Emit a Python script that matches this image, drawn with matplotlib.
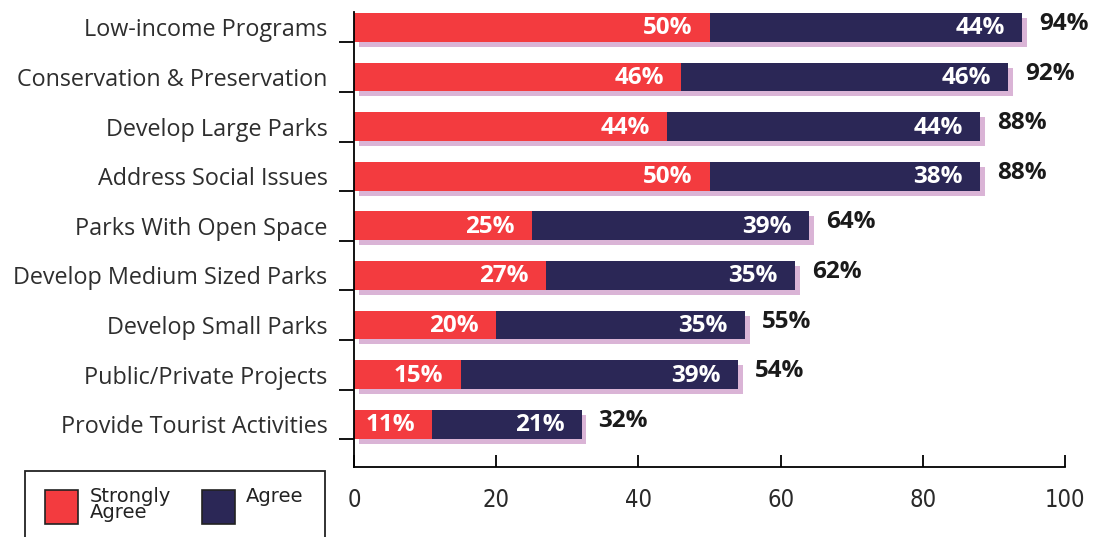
import matplotlib
matplotlib.use('Agg')
import matplotlib.pyplot as plt
from matplotlib.patches import Rectangle

categories = ['Low-income Programs', 'Conservation & Preservation', 'Develop Large Parks',
              'Address Social Issues', 'Parks With Open Space', 'Develop Medium Sized Parks',
              'Develop Small Parks', 'Public/Private Projects', 'Provide Tourist Activities']
strongly_agree = [50, 46, 44, 50, 25, 27, 20, 15, 11]
agree = [44, 46, 44, 38, 39, 35, 35, 39, 21]
totals = [94, 92, 88, 88, 64, 62, 55, 54, 32]
x_ticks = [0, 20, 40, 60, 80, 100]
legend_labels = ['Strongly\nAgree', 'Agree']

RED = '#f33b3f'
NAVY = '#2b2756'
SHADOW = '#dab4d6'
W, H = 1094, 537

fig = plt.figure(figsize=(W / 100, H / 100), dpi=100)
ax = fig.add_axes([354 / W, 1 - 467 / H, 711 / W, 455 / H])

rows = list(range(len(categories)))
h = 0.58

# soft purple drop shadow behind each full bar
ax.barh([r + 0.1 for r in rows], totals, left=0.7, height=h, color=SHADOW, zorder=1)
ax.barh(rows, strongly_agree, height=h, color=RED, zorder=2)
ax.barh(rows, agree, left=strongly_agree, height=h, color=NAVY, zorder=2)

label_font = dict(family='Open Sans', fontweight='bold', fontsize=17.5)
for r in rows:
    sa, ag, tot = strongly_agree[r], agree[r], totals[r]
    ax.text(sa - 2.4, r + 0.02, f'{sa}%', color='white', ha='right', va='center', zorder=3, **label_font)
    ax.text(sa + ag - 2.4, r + 0.02, f'{ag}%', color='white', ha='right', va='center', zorder=3, **label_font)
    ax.text(tot + 2.4, r - 0.07, f'{tot}%', color='#1a1a1a', ha='left', va='center', zorder=3, **label_font)

ax.set_xlim(0, 100)
ax.set_ylim(len(categories) - 1 + 0.86, -0.31)

for side in ['top', 'right']:
    ax.spines[side].set_visible(False)
ax.spines['left'].set_linewidth(1.3)
ax.spines['bottom'].set_linewidth(1.3)

ax.set_xticks(x_ticks)
ax.set_xticklabels([str(t) for t in x_ticks], family='DejaVu Sans', fontstretch='condensed',
                   fontsize=17, color='#2a2a2a')
ax.tick_params(axis='x', direction='in', length=9, width=1.3, pad=15)

ax.set_yticks(rows)
ax.set_yticklabels(categories, family='Open Sans', fontsize=16.8, color='#2e2e2e')
ax.tick_params(axis='y', which='major', length=0, pad=19)
ax.set_yticks([r + 0.3 for r in rows], minor=True)
ax.tick_params(axis='y', which='minor', direction='out', length=11, width=1.3)

# hand-built legend box running off the bottom edge
fig.patches.append(Rectangle((25 / W, -0.05), 300 / W, 0.05 + (H - 471) / H,
                             transform=fig.transFigure, fill=False, edgecolor='#222222',
                             linewidth=1.3, clip_on=False))
for x0, color, text, tx in [(45, RED, legend_labels[0], 90), (202, NAVY, legend_labels[1], 246)]:
    fig.patches.append(Rectangle((x0 / W, 1 - 524 / H), 33 / W, 34 / H, transform=fig.transFigure,
                                 facecolor=color, edgecolor='#222222', linewidth=1.2))
    fig.text(tx / W, 1 - 487 / H, text, ha='left', va='top', family='DejaVu Sans',
             fontsize=14, color='#222222', linespacing=0.8)

fig.savefig('out.png', dpi=100)
